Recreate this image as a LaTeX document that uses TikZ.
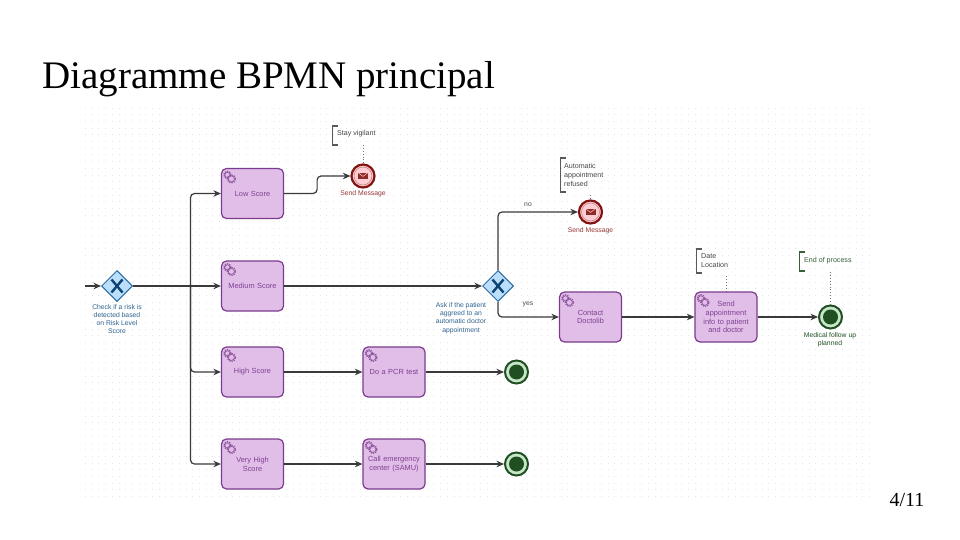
\documentclass[tikz,border=0pt]{standalone}
\usepackage{fontspec}
\setmainfont{Liberation Serif}
\newfontfamily\diagfont{Liberation Sans}
\usetikzlibrary{shapes.geometric}
\usetikzlibrary{arrows.meta}
\usetikzlibrary{calc}

\definecolor{taskfill}{HTML}{E1BEE7}
\definecolor{taskline}{HTML}{7B3A8E}
\definecolor{tasktext}{HTML}{7F3F92}
\definecolor{gatefill}{HTML}{BBDEFB}
\definecolor{gateline}{HTML}{2A6CA3}
\definecolor{gatemark}{HTML}{0D4372}
\definecolor{gatetext}{HTML}{2F6390}
\definecolor{redline}{HTML}{831311}
\definecolor{redfill}{HTML}{FFCDD2}
\definecolor{greenline}{HTML}{205022}
\definecolor{greenring}{HTML}{C8E6C9}
\definecolor{flowline}{HTML}{3A3A3C}
\definecolor{griddot}{HTML}{E6E6E6}

\tikzset{
	task/.style = {rectangle, draw = taskline, fill = taskfill, line width = 1.2pt, rounded corners = 5pt,
		minimum width = 62pt, minimum height = 50pt, inner sep = 1pt, text width = 58pt, align = center,
		text = tasktext, font = \diagfont\fontsize{7.4}{8.9}\selectfont},
	gateway/.style = {diamond, draw = gateline, fill = gatefill, line width = 1pt, minimum width = 31pt, minimum height = 31pt, inner sep = 0pt},
	sendevent/.style = {circle, draw = redline, fill = redfill, line width = 2.2pt, minimum size = 23pt, inner sep = 0pt},
	endevent/.style = {circle, draw = greenline, fill = greenring, line width = 2pt, minimum size = 23pt, inner sep = 0pt},
	caption/.style = {align = center, inner sep = 0pt, font = \diagfont\fontsize{6.8}{8.2}\selectfont},
	note/.style = {align = left, anchor = west, inner sep = 0pt, text = black!72, font = \diagfont\fontsize{7.1}{9}\selectfont},
	flow/.style = {draw = flowline, line width = 1.2pt, rounded corners = 4pt, ->},
	link/.style = {draw = black!55, line width = 0.9pt, dotted},
	gears/.pic = {
		\foreach \gx/\gy/\gr in {-2/-2/3.6, 2/2/4} {
			\draw [taskline!85, line width = 1.3pt, densely dotted] (\gx, \gy) circle [radius = \gr pt];
			\draw [taskline!85, fill = taskfill, line width = 0.7pt] (\gx, \gy) circle [radius = \gr pt - 1pt];
		}
	},
	mailicon/.pic = {
		\fill [redline!90] (-5, -3.4) rectangle (5, 3.4);
		\draw [redfill, line width = 0.5pt] (-5, -3.4) -- (0, 0.4) -- (5, -3.4);
	}
}

\begin{document}
\begin{tikzpicture}[x = 1pt, y = -1pt, >={Stealth[length = 7.5pt, width = 6.5pt]}]
		\useasboundingbox (0, 0) rectangle (960, 540);
		\fill [white] (0, 0) rectangle (960, 540);
		
		% dotted canvas
		\foreach \j in {0, ..., 58} {
			\draw [griddot, line width = 0.9pt, dash pattern = on 0.9pt off 5.8pt] (85, 108 + \j * 6.7) -- (875, 108 + \j * 6.7);
		}
		
		\node (title) [anchor = base west, inner sep = 0pt, font = \fontsize{39}{44}\selectfont] at (42, 89) {Diagramme BPMN principal};
		\node (page) [inner sep = 0pt, font = \fontsize{20}{24}\selectfont] at (907, 500) {4/11};
		
		\begin{scope}
		\node (low) [task] at (252.5, 193.5) {Low Score};
		\node (medium) [task] at (252.5, 286) {Medium Score};
		\node (high) [task] at (252.5, 372) {High Score};
		\node (veryhigh) [task] at (252.5, 464) {Very High\\Score};
		\node (pcr) [task] at (394, 372) {Do a PCR test};
		\node (samu) [task] at (394, 464) {Call emergency center (SAMU)};
		\node (doctolib) [task] at (590.5, 317) {Contact\\Doctolib};
		\node (appointment) [task] at (726, 317) {Send\\appointment\\info to patient\\and doctor};
		\end{scope}
		
		\foreach \t in {low, medium, high, veryhigh, pcr, samu, doctolib, appointment} {
			\pic at ($(\t.north west) + (8.5, 9)$) {gears};
		}
		
		\node (riskgate) [gateway, shape aspect = 1] at (117, 286) {};
		\node (agreegate) [gateway, shape aspect = 1] at (498, 286) {};
		\foreach \g in {riskgate, agreegate} {
			\draw [gatemark, line width = 2.4pt] ($(\g) + (-5.5, -6.5)$) -- ($(\g) + (5.5, 6.5)$)
			($(\g) + (5.5, -6.5)$) -- ($(\g) + (-5.5, 6.5)$);
		}
		
		\node (sendlow) [sendevent] at (363, 176) {};
		\node (sendno) [sendevent] at (590.5, 212) {};
		\foreach \e in {sendlow, sendno} {
			\draw [redline!55, line width = 0.5pt] (\e) circle [radius = 9pt];
			\pic at (\e) {mailicon};
		}
		
		\node (endpcr) [endevent] at (516.5, 372) {};
		\node (endsamu) [endevent] at (516.5, 464) {};
		\node (endmain) [endevent] at (830.5, 317) {};
		\foreach \e in {endpcr, endsamu, endmain} {
			\fill [greenline] (\e) circle [radius = 7.5pt];
		}
		
		% captions
		\node (riskcap) [caption, text = gatetext] at (117, 319) {Check if a risk is\\detected based\\on Risk Level\\Score};
		\node (agreecap) [caption, text = gatetext] at (461, 318) {Ask if the patient\\aggreed to an\\automatic doctor\\appointment};
		\node (sendlowcap) [caption, text = redline!85] at (363, 194) {Send Message};
		\node (sendnocap) [caption, text = redline!85] at (590.5, 231) {Send Message};
		\node (endcap) [caption, text = greenline] at (830, 339.5) {Medical follow up\\planned};
		\node (nolabel) [caption, text = black!70] at (528, 205) {no};
		\node (yeslabel) [caption, text = black!70] at (528, 304.5) {yes};
		
		% notes
		\node (vigilant) [note] at (337, 134) {Stay vigilant};
		\node (refused) [note] at (564, 175) {Automatic\\appointment\\refused};
		\node (dateloc) [note] at (701, 261) {Date\\Location};
		\node (endnote) [note, text = greenline!90] at (804, 260.5) {End of process};
		
		\draw [black!65, line width = 1.1pt] (338, 126) -- (332.5, 126) -- (332.5, 145) -- (338, 145);
		\draw [black!65, line width = 1.1pt] (566, 158) -- (560.5, 158) -- (560.5, 192) -- (566, 192);
		\draw [black!65, line width = 1.1pt] (702, 249) -- (696.5, 249) -- (696.5, 273) -- (702, 273);
		\draw [greenline!90, line width = 1.1pt] (805, 252) -- (799.5, 252) -- (799.5, 271) -- (805, 271);
		
		\coordinate (vigilantend) at (363, 145);
		\coordinate (refusedend) at (590.5, 195);
		\coordinate (datelocend) at (726, 276);
		\coordinate (endnoteend) at (830.5, 272);
		\path [link] (vigilantend) -- (sendlow.north);
		\path [link] (refusedend) -- (sendno.north);
		\path [link] (datelocend) -- (appointment.north);
		\path [link] (endnoteend) -- (endmain.north);
		
		% flows
		\coordinate (start) at (85, 286);
		\coordinate (fork) at (190.5, 286);
		\fill [flowline] (fork) circle [radius = 1.8pt];
		\path [flow] (start) -- (riskgate.west);
		\path [flow] (riskgate.east) -- (medium.west);
		\path [flow] (fork) |- (low.west);
		\path [flow] (fork) |- (high.west);
		\path [flow] (fork) |- (veryhigh.west);
		\path [flow] (low.east) -- ++(33, 0) |- (sendlow.west);
		\path [flow] (medium.east) -- (agreegate.west);
		\path [flow] (agreegate.north) |- (sendno.west);
		\path [flow] (agreegate.south) |- (doctolib.west);
		\path [flow] (doctolib.east) -- (appointment.west);
		\path [flow] (appointment.east) -- (endmain.west);
		\path [flow] (high.east) -- (pcr.west);
		\path [flow] (pcr.east) -- (endpcr.west);
		\path [flow] (veryhigh.east) -- (samu.west);
		\path [flow] (samu.east) -- (endsamu.west);
		
		\end{tikzpicture}
\end{document}
